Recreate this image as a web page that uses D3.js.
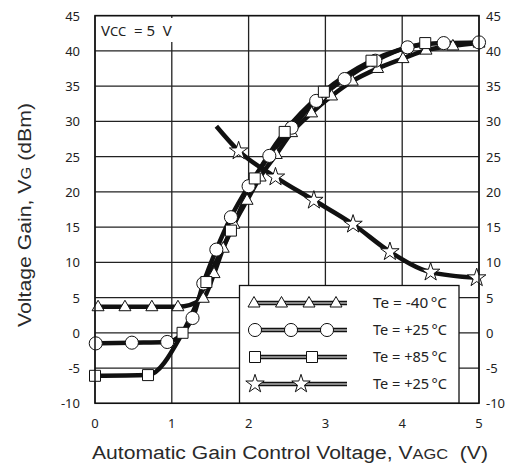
<!DOCTYPE html>
<html>
<head>
<meta charset="utf-8">
<script src="https://cdn.jsdelivr.net/npm/d3@7"></script>
<style>
  body { margin: 0; background: #fff; }
  .tick-label { font-family: "Noto Sans", "Open Sans", sans-serif; font-size: 13px; fill: #222; }
  .title { font-family: "Liberation Sans", Arial, sans-serif; font-size: 18px; fill: #2a2a2a; }
  .leg-text { font-family: "Noto Sans", "Open Sans", sans-serif; font-size: 15px; fill: #222; }
</style>
</head>
<body>
<div id="chart"></div>
<script>
// svg size
var svgWidth = 510;
var svgHeight = 466;

// plot area (pixel edges of the grid)
var plot = { left: 95, right: 479, top: 15.6, bottom: 403.3 };

// ---- data ----
var xTicks = [0, 1, 2, 3, 4, 5];
var yTicks = [-10, -5, 0, 5, 10, 15, 20, 25, 30, 35, 40, 45];

// Te = -40 C (triangles)
var voltsM40 = [0.04, 0.39, 0.74, 1.08, 1.41, 1.55, 1.67, 1.81, 1.98, 2.15, 2.36, 2.56, 2.82, 3.08, 3.35, 3.68, 4.01, 4.31, 4.66, 5.0];
var gainM40  = [3.7, 3.7, 3.7, 3.7, 4.9, 8.4, 12.0, 15.4, 18.8, 22.1, 25.3, 28.4, 31.2, 33.6, 35.7, 37.5, 38.9, 40.1, 40.7, 41.1];

// Te = +25 C (circles)
var voltsP25 = [0.01, 0.48, 0.94, 1.27, 1.41, 1.58, 1.77, 2.0, 2.27, 2.56, 2.88, 3.25, 3.65, 4.07, 4.54, 5.0];
var gainP25  = [-1.5, -1.4, -1.3, 2.1, 7.0, 11.8, 16.4, 20.8, 25.1, 29.1, 32.9, 36.0, 38.6, 40.5, 41.1, 41.2];

// Te = +85 C (squares)
var voltsP85 = [0.0, 0.69, 1.14, 1.45, 1.77, 2.08, 2.47, 2.98, 3.6, 4.3];
var gainP85  = [-6.1, -6.0, 0.0, 7.2, 14.5, 21.9, 28.5, 34.2, 38.6, 41.1];

// Te = +25 C (stars) - first point is where the line starts, no marker
var voltsStar = [1.58, 1.87, 2.35, 2.85, 3.36, 3.84, 4.37, 4.97];
var gainStar  = [29.3, 25.8, 22.1, 18.8, 15.4, 11.5, 8.6, 7.8];
var starMarkFrom = 1;

var legendLabels = ["Te = -40\u2009\u00b0C", "Te = +25\u2009\u00b0C", "Te = +85\u2009\u00b0C", "Te = +25\u2009\u00b0C"];

// ---- svg ----
var svg = d3.select("#chart")
  .append("svg")
  .attr("width", svgWidth)
  .attr("height", svgHeight);

var xScale = d3.scaleLinear().domain([0, 5]).range([plot.left, plot.right]);
var yScale = d3.scaleLinear().domain([-10, 45]).range([plot.bottom, plot.top]);

// grid lines
svg.append("g").selectAll("line.v")
  .data(xTicks).enter().append("line")
  .attr("x1", d => xScale(d)).attr("x2", d => xScale(d))
  .attr("y1", plot.top).attr("y2", plot.bottom)
  .attr("stroke", "#222").attr("stroke-width", 1.3);

svg.append("g").selectAll("line.h")
  .data(yTicks).enter().append("line")
  .attr("x1", plot.left).attr("x2", plot.right)
  .attr("y1", d => yScale(d)).attr("y2", d => yScale(d))
  .attr("stroke", "#222").attr("stroke-width", 1.3);

// tick labels, left and right
svg.append("g").selectAll("text")
  .data(yTicks).enter().append("text")
  .attr("class", "tick-label")
  .attr("x", 80).attr("y", d => yScale(d) + 5)
  .attr("text-anchor", "end")
  .text(d => d);

svg.append("g").selectAll("text")
  .data(yTicks).enter().append("text")
  .attr("class", "tick-label")
  .attr("x", 486).attr("y", d => yScale(d) + 5)
  .text(d => d);

svg.append("g").selectAll("text")
  .data(xTicks).enter().append("text")
  .attr("class", "tick-label")
  .attr("x", d => xScale(d)).attr("y", 428)
  .attr("text-anchor", "middle")
  .text(d => d);

// axis titles (stretched to the width they have in the picture)
var xt = svg.append("text").attr("class", "title")
  .attr("x", 92).attr("y", 459)
  .attr("textLength", 396).attr("lengthAdjust", "spacingAndGlyphs");
xt.append("tspan").text("Automatic Gain Control Voltage, V");
xt.append("tspan").style("font-size", "14px").text("AGC");
xt.append("tspan").text("\u00a0\u00a0(V)");

var yt = svg.append("text").attr("class", "title")
  .attr("transform", "translate(31, 327) rotate(-90)")
  .attr("textLength", 224).attr("lengthAdjust", "spacingAndGlyphs");
yt.append("tspan").text("Voltage Gain, V");
yt.append("tspan").style("font-size", "14px").text("G");
yt.append("tspan").text(" (dBm)");

// ---- curves ----
var line = d3.line()
  .x(d => xScale(d[0]))
  .y(d => yScale(d[1]))
  .curve(d3.curveMonotoneX);

var series = [
  { v: voltsM40, g: gainM40, shape: "tri", from: 0 },
  { v: voltsP25, g: gainP25, shape: "circle", from: 0 },
  { v: voltsP85, g: gainP85, shape: "square", from: 0 },
  { v: voltsStar, g: gainStar, shape: "star", from: starMarkFrom }
];

series.forEach(function(s) {
  var pts = d3.zip(s.v, s.g);
  svg.append("path")
    .attr("d", line(pts))
    .attr("fill", "none")
    .attr("stroke", "#111")
    .attr("stroke-width", 4.5)
    .attr("stroke-linejoin", "round");
});

// marker paths centred on 0,0
function markerPath(shape) {
  if (shape === "tri") {
    return "M0,-6.5L6,4L-6,4Z";
  } else if (shape === "circle") {
    return d3.symbol(d3.symbolCircle, 135)();
  } else if (shape === "square") {
    return "M-5.5,-5.5H5.5V5.5H-5.5Z";
  } else {
    return d3.symbol(d3.symbolStar, 105)();
  }
}

series.forEach(function(s) {
  var pts = d3.zip(s.v, s.g).slice(s.from);
  svg.append("g").selectAll("path")
    .data(pts).enter().append("path")
    .attr("d", markerPath(s.shape))
    .attr("transform", d => `translate(${xScale(d[0])}, ${yScale(d[1])})`)
    .attr("fill", "#fff")
    .attr("stroke", "#111")
    .attr("stroke-width", 1);
});

// ---- legend ----
var legend = svg.append("g");
legend.append("rect")
  .attr("x", 239.5).attr("y", 285.5)
  .attr("width", 219.5).attr("height", plot.bottom - 285.5)
  .attr("fill", "#fff").attr("stroke", "#111").attr("stroke-width", 1.3);

var legRows = [303, 330, 357, 384];
var legMarks = [
  [254, 281.5, 309, 336],
  [255, 291, 327],
  [255, 312],
  [255, 301]
];

series.forEach(function(s, i) {
  var y = legRows[i];
  legend.append("line")
    .attr("x1", 252).attr("x2", 347).attr("y1", y).attr("y2", y)
    .attr("stroke", "#111").attr("stroke-width", 4.5);
  legend.append("line")
    .attr("x1", 252).attr("x2", 347).attr("y1", y).attr("y2", y)
    .attr("stroke", "#fff").attr("stroke-width", 1);
  legend.selectAll("path.m" + i)
    .data(legMarks[i]).enter().append("path")
    .attr("d", markerPath(s.shape))
    .attr("transform", d => `translate(${d}, ${y})`)
    .attr("fill", "#fff").attr("stroke", "#111").attr("stroke-width", 1);
  legend.append("text")
    .attr("class", "leg-text")
    .attr("x", 373).attr("y", y + 5)
    .attr("textLength", 74).attr("lengthAdjust", "spacingAndGlyphs")
    .text(legendLabels[i]);
});

// Vcc note with white background
svg.append("rect")
  .attr("x", 97).attr("y", 18).attr("width", 80).attr("height", 24)
  .attr("fill", "#fff");
var vcc = svg.append("text").attr("class", "tick-label")
  .attr("x", 101).attr("y", 36)
  .style("font-size", "15px");
vcc.append("tspan").text("V");
vcc.append("tspan").style("font-size", "13px").text("CC");
vcc.append("tspan").text("\u00a0\u00a0=\u00a05\u00a0\u00a0V");

// plot border
svg.append("rect")
  .attr("x", plot.left).attr("y", plot.top)
  .attr("width", plot.right - plot.left).attr("height", plot.bottom - plot.top)
  .attr("fill", "none").attr("stroke", "#111").attr("stroke-width", 1.5);
</script>
</body>
</html>
